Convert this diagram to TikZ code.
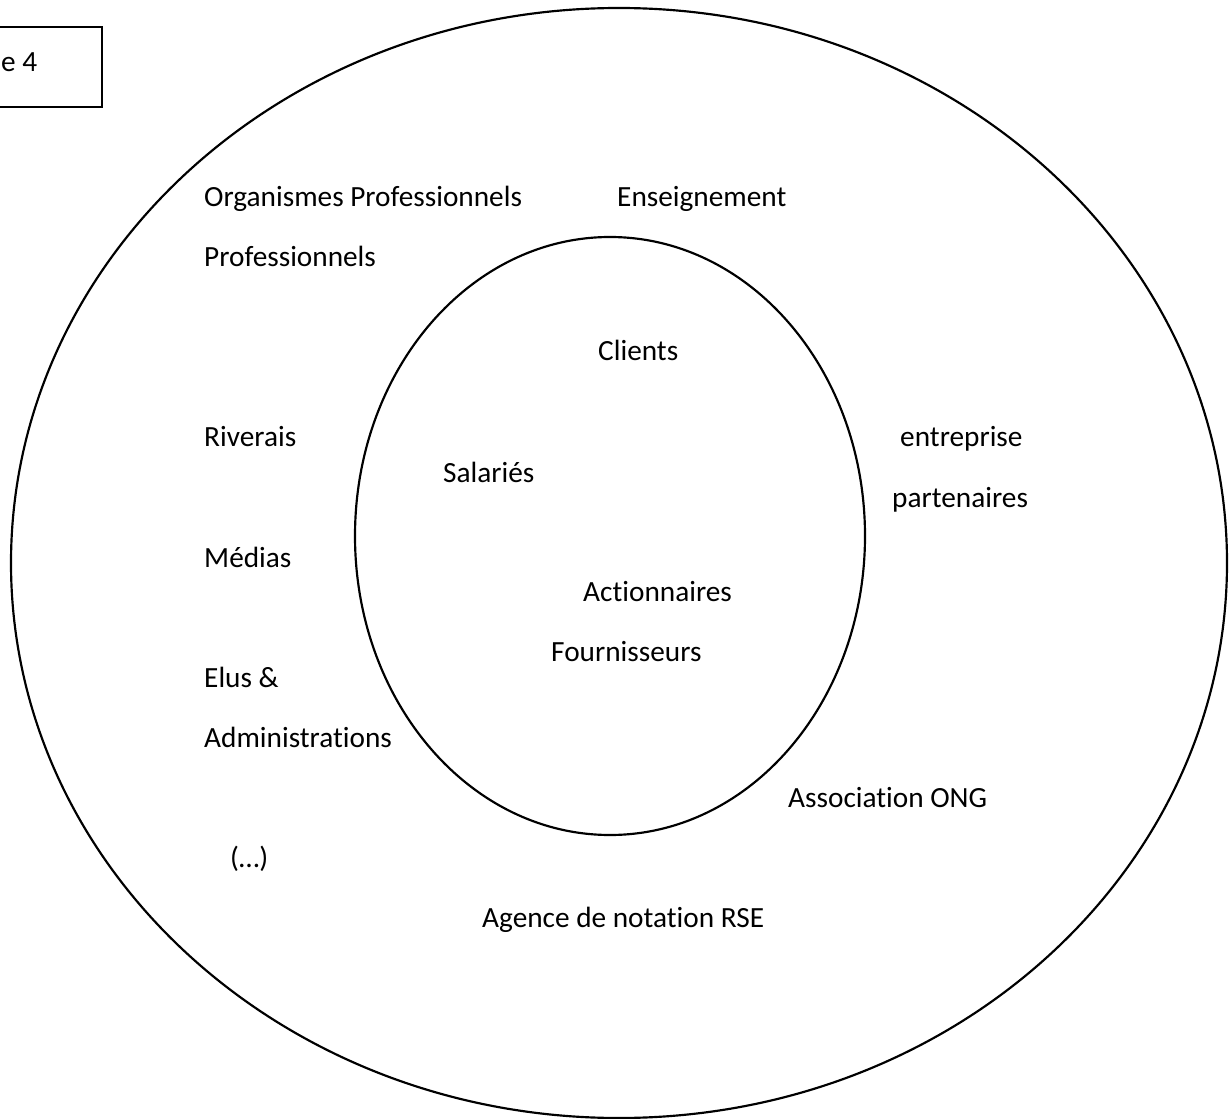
\documentclass[tikz,border=0pt]{standalone}
\usepackage{fontspec}
\setmainfont[Ligatures=NoCommon]{Carlito}
\usetikzlibrary{calc}

\begin{document}
\begin{tikzpicture}[x=0.3mm,y=-0.3mm,
    ring/.style={line width=0.65mm},
    actor/.style={anchor=base west,inner sep=0pt,font=\fontsize{25}{29}\selectfont}]
    \useasboundingbox (0,0) rectangle (1232,1119);
    % frame of the caption
    \draw[line width=0.6mm] (-20,27) rectangle (102,107);
    \node[actor] (caption) at (1,72) {e 4};
    % the two rings
    \coordinate (O) at (619,563);
    \coordinate (I) at (610,536);
    \draw[ring] (O) ellipse [x radius=608, y radius=555];
    \draw[ring] (I) ellipse [x radius=255, y radius=299];
    % outer ring
    \node[actor] (orgpro) at (204,207) {Organismes Professionnels};
    \node[actor] (enseign) at (617,207) {Enseignement};
    \node[actor] (pro) at (204,267) {Professionnels};
    \node[actor] (riverais) at (204,447) {Riverais};
    \node[actor] (entreprise) at (900,447) {entreprise};
    \node[actor] (partenaires) at (892,507) {partenaires};
    \node[actor] (medias) at (204,567) {Médias};
    \node[actor] (elus) at (204,687) {Elus \&};
    \node[actor] (admin) at (204,747) {Administrations};
    \node[actor] (asso) at (788,807) {Association ONG};
    \node[actor] (etc) at (230,867) {(…)};
    \node[actor] (agence) at (482,927) {Agence de notation RSE};
    % inner ring
    \node[actor] (clients) at (598,361) {Clients};
    \node[actor] (salaries) at (443,482) {Salariés};
    \node[actor] (action) at (583,601) {Actionnaires};
    \node[actor] (fourn) at (551,661) {Fournisseurs};
\end{tikzpicture}
\end{document}
